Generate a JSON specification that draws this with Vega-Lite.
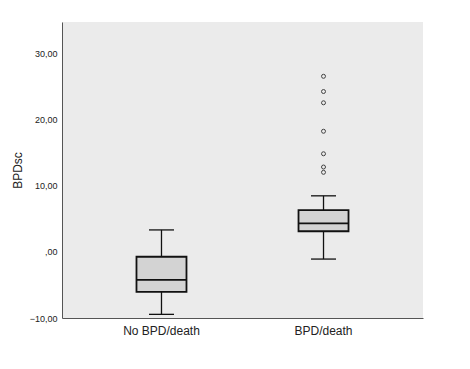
{
  "$schema": "https://vega.github.io/schema/vega-lite/v6.json",
  "autosize": {"type": "none"},
  "width": 361,
  "height": 296,
  "padding": {"left": 62, "top": 22, "right": 47, "bottom": 51},
  "background": "white",
  "config": {
    "view": {"stroke": null, "fill": "#ebebeb"},
    "font": "Liberation Sans"
  },
  "datasets": {
    "stats": [
      {"group": "No BPD/death", "low": -9.45, "q1": -6.05, "median": -4.25, "q3": -0.75, "high": 3.3},
      {"group": "BPD/death", "low": -1.1, "q1": 3.1, "median": 4.3, "q3": 6.3, "high": 8.45}
    ],
    "outliers": [
      {"group": "BPD/death", "value": 26.5},
      {"group": "BPD/death", "value": 24.2},
      {"group": "BPD/death", "value": 22.5},
      {"group": "BPD/death", "value": 18.2},
      {"group": "BPD/death", "value": 14.8},
      {"group": "BPD/death", "value": 12.8},
      {"group": "BPD/death", "value": 12.0}
    ]
  },
  "encoding": {
    "x": {
      "field": "group",
      "type": "nominal",
      "sort": ["No BPD/death", "BPD/death"],
      "scale": {"paddingInner": 0, "paddingOuter": 0.114},
      "axis": {
        "title": null,
        "labelAngle": 0,
        "labelFontSize": 12,
        "labelColor": "#222",
        "ticks": false,
        "labelPadding": 7,
        "domainColor": "#555",
        "domainWidth": 1
      }
    }
  },
  "layer": [
    {
      "data": {"name": "stats"},
      "mark": {"type": "rule", "color": "#111", "strokeWidth": 1.3},
      "encoding": {
        "y": {
          "field": "low",
          "type": "quantitative",
          "scale": {"domain": [-10, 34.7], "nice": false, "zero": false},
          "axis": {
            "title": "BPDsc",
            "titleFont": "Liberation Sans",
            "titleFontSize": 12,
            "titleFontWeight": "normal",
            "titleColor": "#222",
            "titlePadding": 5,
            "values": [-10, 0, 10, 20, 30],
            "labelExpr": "datum.value == 0 ? ',00' : replace(format(datum.value, '.2f'), '.', ',')",
            "labelFontSize": 9,
            "labelColor": "#222",
            "ticks": false,
            "labelPadding": 5,
            "grid": false,
            "domainColor": "#555",
            "domainWidth": 1
          }
        },
        "y2": {"field": "high"}
      }
    },
    {
      "data": {"name": "stats"},
      "mark": {"type": "bar", "size": 50, "fill": "#d3d3d3", "stroke": "#111", "strokeWidth": 1.8},
      "encoding": {
        "y": {"field": "q1", "type": "quantitative"},
        "y2": {"field": "q3"}
      }
    },
    {
      "data": {"name": "stats"},
      "mark": {"type": "tick", "size": 50, "thickness": 1.8, "color": "#111", "opacity": 1},
      "encoding": {"y": {"field": "median", "type": "quantitative"}}
    },
    {
      "data": {"name": "stats"},
      "mark": {"type": "tick", "size": 25, "thickness": 1.3, "color": "#111", "opacity": 1},
      "encoding": {"y": {"field": "low", "type": "quantitative"}}
    },
    {
      "data": {"name": "stats"},
      "mark": {"type": "tick", "size": 25, "thickness": 1.3, "color": "#111", "opacity": 1},
      "encoding": {"y": {"field": "high", "type": "quantitative"}}
    },
    {
      "data": {"name": "outliers"},
      "mark": {"type": "point", "shape": "circle", "filled": false, "size": 16, "stroke": "#444", "strokeWidth": 1, "opacity": 1},
      "encoding": {"y": {"field": "value", "type": "quantitative"}}
    }
  ]
}
